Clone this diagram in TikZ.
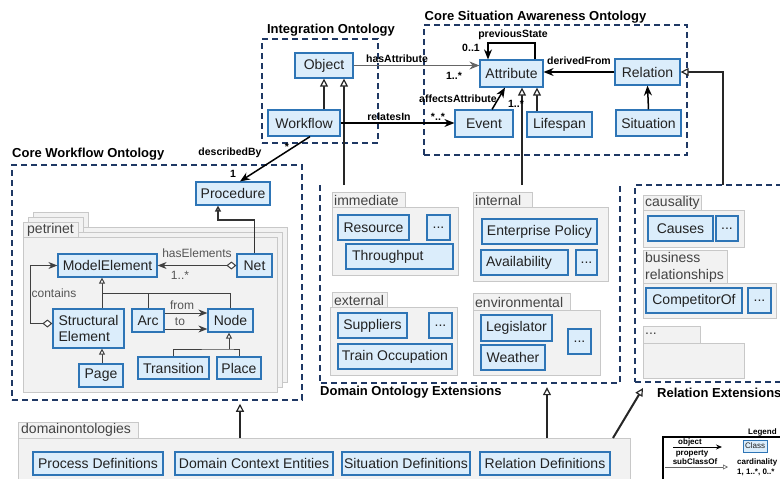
\documentclass[tikz,border=0pt]{standalone}
\usepackage{fontspec}
\setmainfont{Liberation Sans}
\usetikzlibrary{arrows.meta}
\definecolor{clsfill}{RGB}{219,237,251}
\definecolor{clsdraw}{RGB}{46,117,182}
\definecolor{navy}{RGB}{31,56,100}
\definecolor{pkgfill}{RGB}{242,242,242}
\definecolor{pkgdraw}{RGB}{200,200,200}
\definecolor{txt}{RGB}{34,34,34}
\definecolor{lbl}{RGB}{85,85,85}
\tikzset{
 cls/.style={draw=clsdraw, fill=clsfill, line width=1.2pt, inner sep=0pt, font=\fontsize{14}{16}\selectfont, text=txt},
 dbox/.style={draw=navy, line width=1.5pt, dash pattern=on 6pt off 4pt, inner sep=0pt},
 pkg/.style={draw=pkgdraw, fill=pkgfill, line width=0.8pt},
 tabtext/.style={font=\fontsize{14}{16}\selectfont, text=txt!85, anchor=west, inner sep=0pt},
 ttl/.style={font=\bfseries\fontsize{13}{15}\selectfont, inner sep=0pt},
 blbl/.style={font=\bfseries\fontsize{10.5}{12}\selectfont, inner sep=0pt},
 glbl/.style={font=\fontsize{12}{14}\selectfont, text=lbl, inner sep=0pt},
 gen/.style={line width=2pt, draw=black!85, -{Triangle[open, fill=white, length=8pt, width=8pt, line width=1.2pt]}},
 assoc/.style={line width=1.5pt, draw=black, -{Stealth[length=10pt, width=8pt]}},
 tline/.style={line width=1pt, draw=black!75},
 tgen/.style={tline, -{Triangle[open, fill=white, length=6pt, width=6pt]}},
 tarr/.style={tline, -{Stealth[length=9pt, width=7pt]}},
 lgd/.style={font=\bfseries\fontsize{8}{9}\selectfont, inner sep=0pt}
}
\begin{document}
\begin{tikzpicture}[x=1pt,y=-1pt]
\useasboundingbox (0,0) rectangle (780,479);

% ---------- dashed ontology boxes ----------
\node[dbox, minimum width=116pt, minimum height=104pt] (iob) at (320,91) {};
\node[ttl] at (331,30) {Integration Ontology};
\node[dbox, minimum width=263pt, minimum height=130pt] (csa) at (555.5,90) {};
\node[ttl] at (535.5,17) {Core Situation Awareness Ontology};
\node[dbox, minimum width=290pt, minimum height=235pt] (cwo) at (157,282.5) {};
\node[ttl, anchor=west] at (12,154) {Core Workflow Ontology};
\node[inner sep=0pt, minimum width=300pt, minimum height=198pt] (doe) at (470,284) {};
\draw[dbox] (doe.north west) -- (doe.south west) -- (doe.south east) -- (doe.north east);
\node[ttl, anchor=west] at (320,392) {Domain Ontology Extensions};
\node[dbox, minimum width=155pt, minimum height=197pt] (rex) at (712.5,283.5) {};
\node[ttl, anchor=west] at (657,393) {Relation Extensions};

% ---------- petrinet package (stacked) ----------
\foreach \dx/\dy in {10/-10,5/-5,0/0}{
  \begin{scope}[shift={(\dx,\dy)}]
    \draw[pkg] (23,222) rectangle (78,237);
    \draw[pkg] (23,237) rectangle (277,392);
  \end{scope}
}
\node[tabtext] at (27,230) {petrinet};

% ---------- domain extension packages ----------
\draw[pkg] (332,192) rectangle (405,207);
\draw[pkg] (332,207) rectangle (458,275);
\node[tabtext] at (334,200) {immediate};
\draw[pkg] (473,192) rectangle (532,207);
\draw[pkg] (473,207) rectangle (608,281);
\node[tabtext] at (475,200) {internal};
\draw[pkg] (332,292) rectangle (387,307);
\draw[pkg] (330,307) rectangle (457,375);
\node[tabtext] at (334,300) {external};
\draw[pkg] (473,293) rectangle (570,310);
\draw[pkg] (473,310) rectangle (600,375);
\node[tabtext] at (475,302) {environmental};

% ---------- relation extension packages ----------
\draw[pkg] (643,195) rectangle (701,210);
\draw[pkg] (643,210) rectangle (744,247);
\node[tabtext] at (645,203) {causality};
\draw[pkg] (643,250) rectangle (727,283);
\draw[pkg] (643,283) rectangle (776,318);
\node[tabtext, align=left, font=\fontsize{14}{17}\selectfont] at (645,267) {business\\relationships};
\draw[pkg] (643,326) rectangle (700,343);
\draw[pkg] (643,343) rectangle (744,378);
\node[tabtext] at (645,334) {...};

% ---------- domainontologies package ----------
\draw[pkg] (18,422) rectangle (138,438);
\node[pkg, inner sep=0pt, minimum width=612pt, minimum height=57pt] (dom) at (324,466.5) {};
\node[tabtext] at (21,430) {domainontologies};

% ---------- classes ----------
\node[cls, minimum width=58pt, minimum height=25pt] (obj) at (324,65.5) {Object};
\node[cls, minimum width=72pt, minimum height=26pt] (wf) at (304,123) {Workflow};
\node[cls, minimum width=63pt, minimum height=27pt] (attr) at (511.5,73.5) {Attribute};
\node[cls, minimum width=58pt, minimum height=27pt] (ev) at (484,123.5) {Event};
\node[cls, minimum width=65pt, minimum height=25pt] (life) at (559.5,124.5) {Lifespan};
\node[cls, minimum width=65pt, minimum height=26pt] (rel) at (647.5,72) {Relation};
\node[cls, minimum width=65pt, minimum height=26pt] (sit) at (648.5,123) {Situation};

\node[cls, minimum width=74pt, minimum height=23pt] (proc) at (233,193.5) {Procedure};
\node[cls, minimum width=99pt, minimum height=23pt] (me) at (107.5,265.5) {ModelElement};
\node[cls, minimum width=35pt, minimum height=23pt] (net) at (254.5,265.5) {Net};
\node[cls, minimum width=71pt, minimum height=39pt, align=left] (se) at (88.5,328.5) {Structural\\Element};
\node[cls, minimum width=32pt, minimum height=23pt] (arc) at (148,320.5) {Arc};
\node[cls, minimum width=45pt, minimum height=23pt] (nd) at (230.5,320.5) {Node};
\node[cls, minimum width=44pt, minimum height=23pt] (page) at (101,375.5) {Page};
\node[cls, minimum width=71pt, minimum height=22pt] (tr) at (173.5,368) {Transition};
\node[cls, minimum width=44pt, minimum height=22pt] (pl) at (239,368) {Place};

\node[cls, minimum width=71pt, minimum height=25pt] (res) at (373.5,227.5) {Resource};
\node[cls, minimum width=23pt, minimum height=25pt] (imd) at (438.5,227.5) {...};
\node[cls, minimum width=107pt, minimum height=25pt, text width=95pt, align=left] (thr) at (399.5,256.5) {Throughput};
\node[cls, minimum width=115pt, minimum height=25pt] (ent) at (539.5,231.5) {Enterprise Policy};
\node[cls, minimum width=87pt, minimum height=25pt, text width=77pt, align=left] (avl) at (524.5,262.5) {Availability};
\node[cls, minimum width=21pt, minimum height=25pt] (ind) at (586.5,262.5) {...};
\node[cls, minimum width=69pt, minimum height=25pt] (sup) at (372.5,325.5) {Suppliers};
\node[cls, minimum width=23pt, minimum height=25pt] (exd) at (440.5,325.5) {...};
\node[cls, minimum width=114pt, minimum height=25pt] (tro) at (395,356.5) {Train Occupation};
\node[cls, minimum width=71pt, minimum height=26pt] (leg) at (516.5,328) {Legislator};
\node[cls, minimum width=64pt, minimum height=25pt] (wea) at (513,357.5) {Weather};
\node[cls, minimum width=23pt, minimum height=25pt] (envd) at (579.5,341.5) {...};

\node[cls, minimum width=65pt, minimum height=25pt] (cau) at (680.5,228.5) {Causes};
\node[cls, minimum width=22pt, minimum height=25pt] (caud) at (727,228.5) {...};
\node[cls, minimum width=96pt, minimum height=25pt] (comp) at (694,300.5) {CompetitorOf};
\node[cls, minimum width=23pt, minimum height=25pt] (compd) at (759.5,300.5) {...};

\node[cls, minimum width=130pt, minimum height=23pt] (pd) at (98,463.5) {Process Definitions};
\node[cls, minimum width=158pt, minimum height=23pt] (dce) at (254,463.5) {Domain Context Entities};
\node[cls, minimum width=128pt, minimum height=23pt] (sd) at (406,463.5) {Situation Definitions};
\node[cls, minimum width=130pt, minimum height=23pt] (rd) at (545,463.5) {Relation Definitions};

% ---------- helper coordinates ----------
\coordinate (ext1) at (344,185);
\coordinate (ext2) at (522,185);
\coordinate (lx) at (537,0);
\coordinate (ps1) at (535,43);
\coordinate (ps2) at (488,43);
\coordinate (ea1) at (492,0);
\coordinate (ea2) at (505,0);
\coordinate (wp1) at (310,0);
\coordinate (wp2) at (240,0);
\coordinate (rx) at (723,185);
\coordinate (pj) at (218,220);
\coordinate (g1) at (102,293);
\coordinate (g2) at (229,349);
\coordinate (d1) at (240,438);
\coordinate (d2) at (547,438);
\coordinate (d3) at (613,438);
\coordinate (rxt) at (643,388);
\coordinate (ct) at (30,0);
\coordinate (afrom) at ([yshift=7.5pt]arc.east);
\coordinate (ato) at ([yshift=-8.5pt]arc.east);
\coordinate (scont) at ([yshift=5pt]se.west);

% ---------- integration / situation connectors ----------
\draw[gen] (wf.north -| obj.south) -- (obj.south);
\draw[gen] (ext1) -- (ext1 |- obj.south);
\draw[gen] (ext2) -- (ext2 |- attr.south);
\draw[gen] (life.north -| lx) -- (attr.south -| lx);
\draw[assoc] (sit.north) -- (rel.south);
\draw[assoc] (rel.west) -- (attr.east |- rel.west);
\node[blbl] at (579,61) {derivedFrom};
\draw[assoc] (attr.north -| ps1) -- (ps1) -- (ps2) -- (attr.north -| ps2);
\node[blbl] at (513,35) {previousState};
\node[blbl] at (471,48) {0..1};
\draw[line width=1pt, draw=black!60, -{Stealth[length=10pt, width=8pt]}] (obj.east) -- (attr.west |- obj.east);
\node[blbl] at (397,59) {hasAttribute};
\node[blbl] at (454,76) {1..*};
\draw[assoc] (wf.east) -- (ev.west |- wf.east);
\node[blbl] at (389,117) {relatesIn};
\node[blbl] at (438,117) {*..*};
\draw[assoc] (ev.north -| ea1) -- (attr.south -| ea2);
\node[blbl] at (458,99) {affectsAttribute};
\node[blbl] at (516,104) {1..*};
\draw[assoc] (wf.south -| wp1) -- (proc.north -| wp2);
\node[blbl] at (230,153) {describedBy};
\node[blbl] at (233,174) {1};
\node[blbl] at (287,147) {*};
\draw[gen] (rx) |- (rel.east);

% ---------- petrinet connectors ----------
\draw[tgen, line width=1.5pt, draw=black!80] (net.north) |- (pj) -- (proc.south -| pj);
\draw[tarr, {Diamond[open, fill=white, length=10pt, width=8pt]}-{Stealth[length=9pt, width=7pt]}] (net.west) -- (me.east);
\node[glbl] at (197,253) {hasElements};
\node[glbl] at (180,275) {1..*};
\draw[tarr, {Diamond[open, fill=white, length=10pt, width=8pt]}-{Stealth[length=9pt, width=7pt]}] (scont) -| (ct |- me.west) -- (me.west);
\node[glbl] at (54,293) {contains};
\draw[tgen] (g1) -- (g1 |- me.south);
\draw[tline] (g1 |- se.north) |- (nd.north |- g1) -- (nd.north);
\draw[tline] (arc.north) -- (arc.north |- g1);
\draw[tarr] (afrom) -- (nd.west |- afrom);
\node[glbl] at (182,305) {from};
\draw[tarr] (ato) -- (nd.west |- ato);
\node[glbl] at (180,322) {to};
\draw[tgen] (page.north -| g1) -- (se.south -| g1);
\draw[tgen] (g2) -- (g2 |- nd.south);
\draw[tline] (tr.north) |- (g2) -| (pl.north);

% ---------- domainontologies connectors ----------
\draw[gen, shorten >=3pt] (d1) -- (d1 |- cwo.south);
\draw[gen, shorten >=4pt] (d2) -- (d2 |- doe.south);
\draw[gen] (d3) -- (rxt);

% ---------- legend ----------
\node[lgd, anchor=west] at (748,432) {Legend};
\draw[line width=1.2pt] (663,437) rectangle (800,500);
\node[lgd] at (690,442) {object};
\coordinate (lg1) at (673,447);
\coordinate (lg2) at (722,447);
\draw[line width=0.8pt, -{Stealth[length=6pt, width=5pt]}] (lg1) -- (lg2);
\node[lgd] at (692,454) {property};
\node[lgd] at (695,462) {subClassOf};
\coordinate (lg3) at (665,467);
\coordinate (lg4) at (728,467);
\draw[line width=0.6pt, draw=black!60, -{Triangle[open, fill=white, length=5pt, width=5pt]}] (lg3) -- (lg4);
\node[cls, line width=0.8pt, font=\fontsize{8}{9}\selectfont, minimum width=24pt, minimum height=12pt] (lcls) at (755,446) {Class};
\node[lgd, anchor=west] at (737,462) {cardinality};
\node[lgd, anchor=west] at (737,472) {1, 1..*, 0..*};
\end{tikzpicture}
\end{document}
